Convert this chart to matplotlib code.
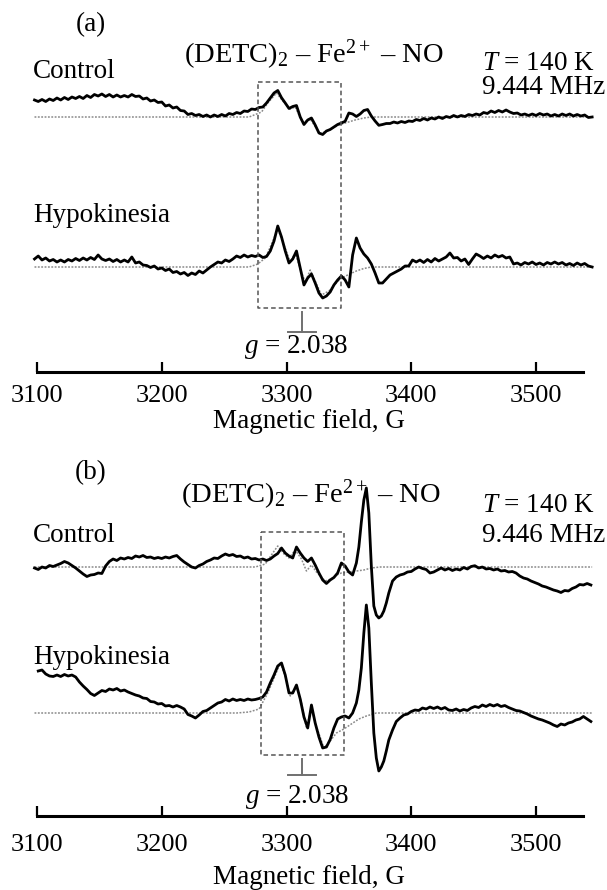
import matplotlib
matplotlib.use("Agg")
import matplotlib.pyplot as plt

plt.rcParams['font.family'] = ['Liberation Serif', 'DejaVu Serif']
plt.rcParams['mathtext.fontset'] = 'custom'
plt.rcParams['mathtext.rm'] = 'Liberation Serif'
plt.rcParams['mathtext.it'] = 'Liberation Serif:italic'

# ---------------- data (field in G, signal in arbitrary units) ----------------
field_ticks = [3100, 3200, 3300, 3400, 3500]

# panel (a): sampled every 3 G from 3098 G
a_field = list(range(3098, 3546, 3))
a_ctrl_signal = [
    17, 15.5, 17.5, 15.5, 18, 16.5, 19, 17, 19.5, 17.5,
    20, 18.5, 20.5, 18.5, 21.5, 19.5, 22.5, 21, 23, 20.5,
    22.5, 20, 22, 20, 21.5, 20, 22.5, 20.5, 21, 18,
    19, 16, 17, 14.5, 15, 11, 12, 9, 10, 6.5,
    6, 2.5, 3.5, 1.5, 2.5, 0.5, 2, 0, 2, 0.5,
    2.5, 1, 3.5, 2.5, 4.5, 3.5, 6, 5.5, 8, 7.5,
    9.5, 10, 14, 19, 24, 26.5, 19.3, 14, 8.5, 10.5,
    11.5, 0, -7.5, -3, -1, -8, -16, -17.5, -14, -12.5,
    -10, -7.5, -6, -4.3, 4, 3, 0.5, 3, 6.5, 7.5,
    1, -4, -8.3, -7.5, -6.5, -6.5, -5, -6, -4.5, -5.5,
    -4, -4.5, -2.5, -3.5, -1.5, -3, -1, -2, 0, -1.5,
    0.5, -0.5, 1.5, 0, 1.5, 0.5, 2.5, 1.5, 3, 2,
    4.5, 3.5, 6, 4.5, 6.5, 5, 7, 5, 3.5, 4,
    2, 3, 1.5, 3, 1.5, 3.5, 2, 3, 1, 2.5,
    1, 3, 1.5, 3, 1, 2.5, 1, 2, -0.5, 0]
a_hypo_signal = [
    8, 11, 7, 9, 6, 7.5, 5, 7, 5, 7.5,
    6, 8.5, 6.5, 9, 7, 9.5, 7.5, 12, 8, 6.5,
    8, 5.5, 7.5, 5, 7, 5, 10, 4, 5, 2,
    1.5, -0.5, 1, -2, -1, -3.5, -2, -5.5, -4.5, -7,
    -5.5, -8.5, -6, -7.5, -4, -6, -3, 0, 2.5, 5,
    4, 7, 5.5, 8, 11, 9.5, 12, 10, 11.5, 10.5,
    12, 9.5, 10.5, 16, 26, 41, 30, 16, 4, 8,
    16, -1, -18, -11, -7, -16, -26, -31, -29, -25,
    -18, -13, -9, -13, -20, 12, 29, 19, 13, 9,
    3, -6, -16, -16, -12, -8, -6, -4, -2, 1,
    1, 7, 5, 7, 4.5, 7.5, 5, 8.5, 6, 8,
    10, 14, 9, 9.5, 6, 8, 2.5, 8, 13, 11,
    8.5, 11, 9, 12, 10, 11.5, 9, 10, 3, 4,
    2, 4.5, 3, 5, 2.5, 4, 2, 4.5, 3, 5,
    3, 4.5, 2, 3.5, 1.5, 4, 2, 3.5, 1, 0]

a_ctrl_sim_field = [3098, 3270, 3280, 3285, 3292, 3297, 3303, 3307, 3313, 3319, 3327, 3334,
                    3342, 3347, 3355, 3362, 3368, 3545]
a_ctrl_sim = [0, 0, 5, 14, 24, 16, 8, 10, -6, -2, -17, -13, -8, -6, -3, -1, 0, 0]
a_hypo_sim_field = [3098, 3270, 3277, 3283, 3287, 3293, 3298, 3303, 3307, 3311, 3315, 3319,
                    3323, 3328, 3334, 3339, 3343, 3349, 3356, 3362, 3368, 3545]
a_hypo_sim = [0, 0, 3, 9, 20, 38, 22, 5, 14, -2, -15, -3, -14, -28, -24, -17, -12, -8, -4,
              -1.5, 0, 0]

# panel (b): every 3 G, finer (2 G) across the narrow line at 3356-3382 G
b_ctrl_field = list(range(3098, 3356, 3)) + list(range(3356, 3383, 2)) + list(range(3385, 3546, 3))
b_ctrl_signal = [
    -1, -2.5, 0, -1, 1.5, 0.5, 2, 3.5, 5.5, 4,
    1.5, -1, -4, -7, -9.5, -8, -7.5, -6, -6.5, 1,
    5.5, 8, 6.5, 9, 8, 9.5, 8.5, 11, 10, 11.5,
    9.5, 10, 8.5, 9.5, 8.5, 10, 9, 10.5, 11.5, 8,
    5, 2.5, 0, -1, 1.5, 3, 5.5, 7, 9, 8.5,
    11, 13, 11.5, 12.5, 10.5, 11, 9, 10, 8, 8.5,
    7, 8, 6.5, 8, 11, 13.5, 19, 14, 11, 9,
    20, 14, 9, 5.5, 9, 2, -6, -13, -16.5, -13,
    -10.5, -6, 4, 1, -5, -8,
    4, 20, 45, 67, 79, 54, 1, -39, -48, -51, -49, -44, -36, -26,
    -14, -10, -8, -7, -5, -4.5, -2, 0, -1.5, -2.5,
    -6, -5, -3, -1, -3, -1.5, -3.5, -2, -3, -0.5,
    -2, 0.5, 1.3, -1, 0, -2, -1.5, -3, -2, -4,
    -3.5, -5, -4.5, -6, -9, -11, -12, -14, -15.5, -17,
    -19, -20, -21.5, -23, -24, -25.5, -23.5, -24, -21.5, -20,
    -17.5, -18, -16.5, -18]
b_hypo_field = list(range(3101, 3356, 3)) + list(range(3356, 3383, 2)) + list(range(3385, 3546, 3))
b_hypo_signal = [
    42, 43, 39, 37, 36.5, 38, 36.5, 38.5, 37, 38,
    36, 31, 27, 23.5, 19.5, 17.5, 20, 22.5, 21.5, 24,
    23, 24.5, 22, 23, 21, 19.5, 18, 17, 15, 14.5,
    11.5, 11, 9, 9.5, 7, 7.5, 6, 7.5, 6, 4,
    -1.5, -3, -5, -2, 1.5, 2.5, 5, 7.5, 10, 11,
    13.5, 12, 14, 12.5, 13.5, 12.5, 14, 13, 13.5, 14.5,
    16, 21, 30, 38, 47, 50, 38, 20, 20, 28,
    14, -4, -15, 8, -10, -24, -35, -34, -26.5, -15,
    -6, -4, -3, -5, 0,
    10, 23, 45, 80, 108, 85, 30, -20, -45, -58, -54, -48, -38, -27,
    -17, -8.5, -5, -2, -1, 1.5, 3, 2.5, 5, 4,
    6, 4.5, 6, 4, 5.5, 3, 2.5, 4, 2, 3.5,
    2.5, 5, 6.5, 5.5, 8, 6.5, 8.5, 7, 8.5, 6.5,
    7.5, 5.5, 4, 2.5, 2, 0.5, -1, -3, -4.5, -6,
    -7, -8.5, -10, -12, -13.5, -11, -12, -10, -9, -7,
    -6, -3.5, -6, -8.5]

b_ctrl_sim_field = [3098, 3275, 3283, 3289, 3293, 3298, 3302, 3307, 3312, 3316, 3320, 3324,
                    3331, 3336, 3340, 3344, 3350, 3356, 3362, 3368, 3375, 3545]
b_ctrl_sim = [0, 0, 3, 14, 21, 13, 9, 17, 8, -4, 2, -5, -14, -12, -8, -6, -5, -4, -3, -1, 0, 0]
b_hypo_sim_field = [3098, 3260, 3270, 3278, 3285, 3291, 3295, 3299, 3303, 3308, 3312, 3316,
                    3320, 3323, 3330, 3335, 3340, 3346, 3352, 3358, 3364, 3372, 3545]
b_hypo_sim = [0, 0, 1, 4, 20, 38, 50, 37, 17, 27, 10, -15, 5, -10, -35, -28, -20, -16, -11,
              -6, -3, 0, 0]

# ---------------- layout helpers (pixel geometry of the 607x890 canvas) ----------------
W, H = 607, 890
PX_PER_G = 1.2475
X3100 = 37
XLIM = (3100 - X3100 / PX_PER_G, 3100 + (W - X3100) / PX_PER_G)

fig = plt.figure(figsize=(W / 100, H / 100), dpi=100)

def make_axes(top_px, bottom_px, pad):
    ax = fig.add_axes([0, 1 - bottom_px / H, 1, (bottom_px - top_px) / H])
    ax.set_xlim(*XLIM)
    ax.set_ylim(bottom_px, top_px)   # y data in canvas rows
    for s in ('left', 'right', 'top'):
        ax.spines[s].set_visible(False)
    ax.spines['bottom'].set_bounds(3100, 3538)
    ax.spines['bottom'].set_linewidth(2.2)
    ax.set_yticks([])
    ax.set_xticks(field_ticks)
    ax.tick_params(axis='x', direction='in', length=7, width=1.6, labelsize=19, pad=pad)
    ax.patch.set_alpha(0)
    return ax

FS = 19.5
FS_TITLE = 20.5
TRACE = dict(color='black', lw=2.0, solid_joinstyle='round')
SIM = dict(color='#8a8a8a', lw=1.1, ls=(0, (1.2, 1.0)))
BOX = dict(color='#555555', lw=1.1, ls=(0, (3, 2)))
MARK = dict(color='#707070', lw=1.4)

def draw_trace(ax, f, s, base):
    ax.plot(f, [base - v for v in s], **TRACE)

def draw_sim(ax, f, s, base):
    ax.plot(f, [base - v for v in s], **SIM)

def draw_box(ax, f0, f1, y0, y1):
    ax.plot([f0, f1, f1, f0, f0], [y0, y0, y1, y1, y0], **BOX)

def draw_g(ax, fg, y0, y1, half):
    ax.plot([fg, fg], [y0, y1], **MARK)
    ax.plot([fg - half, fg + half], [y1, y1], **MARK)

def g_of(px):
    return 3100 + (px - X3100) / PX_PER_G

# ---------------- panel (a) ----------------
axa = make_axes(0, 372, 9)
draw_sim(axa, a_ctrl_sim_field, a_ctrl_sim, 117)
draw_trace(axa, a_field, a_ctrl_signal, 117)
draw_sim(axa, a_hypo_sim_field, a_hypo_sim, 267)
draw_trace(axa, a_field, a_hypo_signal, 267)
draw_box(axa, g_of(258), g_of(341), 82, 308)
draw_g(axa, g_of(302), 312, 332, 11.5)
axa.text(g_of(91), 25, '(a)', ha='center', va='center', fontsize=FS)
axa.text(g_of(314), 55, r'(DETC)$_2$ – Fe$^{2+}$ – NO', ha='center', va='center', fontsize=FS_TITLE)
axa.text(g_of(33), 72, 'Control', ha='left', va='center', fontsize=FS)
axa.text(g_of(482), 63, r'$T$ = 140 K', ha='left', va='center', fontsize=FS)
axa.text(g_of(482), 88, '9.444 MHz', ha='left', va='center', fontsize=FS)
axa.text(g_of(33), 215, 'Hypokinesia', ha='left', va='center', fontsize=FS)
axa.text(g_of(296), 347, r'$g$ = 2.038', ha='center', va='center', fontsize=FS)
axa.text(g_of(309), 421, 'Magnetic field, G', ha='center', va='center', fontsize=FS)

# ---------------- panel (b) ----------------
axb = make_axes(445, 816, 13)
draw_sim(axb, b_ctrl_sim_field, b_ctrl_sim, 567)
draw_trace(axb, b_ctrl_field, b_ctrl_signal, 567)
draw_sim(axb, b_hypo_sim_field, b_hypo_sim, 713)
draw_trace(axb, b_hypo_field, b_hypo_signal, 713)
draw_box(axb, g_of(261), g_of(344), 532, 755)
draw_g(axb, g_of(302), 759, 775, 11.5)
axb.text(g_of(91), 473, '(b)', ha='center', va='center', fontsize=FS)
axb.text(g_of(311), 495, r'(DETC)$_2$ – Fe$^{2+}$ – NO', ha='center', va='center', fontsize=FS_TITLE)
axb.text(g_of(482), 505, r'$T$ = 140 K', ha='left', va='center', fontsize=FS)
axb.text(g_of(482), 535, '9.446 MHz', ha='left', va='center', fontsize=FS)
axb.text(g_of(33), 535, 'Control', ha='left', va='center', fontsize=FS)
axb.text(g_of(33), 658, 'Hypokinesia', ha='left', va='center', fontsize=FS)
axb.text(g_of(297), 797, r'$g$ = 2.038', ha='center', va='center', fontsize=FS)
axb.text(g_of(309), 877, 'Magnetic field, G', ha='center', va='center', fontsize=FS)

for ax in (axa, axb):
    for t in ax.texts:
        t.set_clip_on(False)
    for ln in ax.lines:
        ln.set_clip_on(False)

fig.savefig('out.png', dpi=100)
